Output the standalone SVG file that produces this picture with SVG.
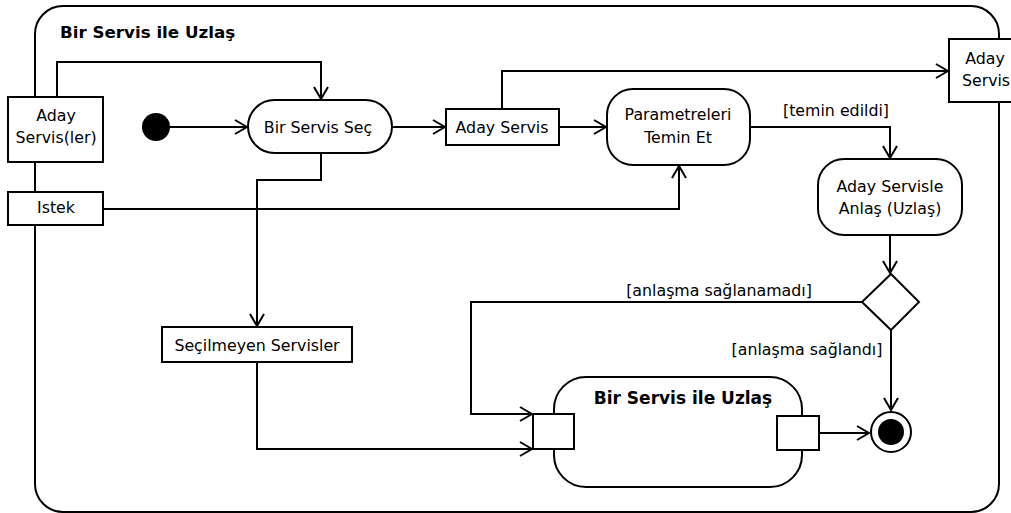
<svg xmlns="http://www.w3.org/2000/svg" width="1011" height="513" viewBox="0 0 1011 513">
<defs>
<style>
.ln{fill:none;stroke:#000;stroke-width:2}
.box{fill:#fff;stroke:#000;stroke-width:2}
.t{font-family:"DejaVu Sans","Noto Sans",sans-serif;font-size:15.8px;fill:#000;text-anchor:middle;dominant-baseline:central}
.b{font-family:"DejaVu Sans","Noto Sans",sans-serif;font-size:16.7px;font-weight:bold;fill:#000;dominant-baseline:central}
</style>
<marker id="a" markerUnits="userSpaceOnUse" viewBox="0 0 14 16" refX="13" refY="8" markerWidth="14" markerHeight="16" orient="auto">
<path d="M1 1 L13 8 L1 15" fill="none" stroke="#000" stroke-width="2"/>
</marker>
</defs>
<rect width="1011" height="513" fill="#fff"/>
<g id="frame">
<rect x="35" y="6" width="964" height="506" rx="28" ry="28" class="ln"/>
<text class="b" x="60" y="32">Bir Servis ile Uzlaş</text>
</g>
<g id="connectors">
<path class="ln" d="M57 97 V62 H321 V99" marker-end="url(#a)"/>
<path class="ln" d="M170 127 H247" marker-end="url(#a)"/>
<path class="ln" d="M392 127 H445" marker-end="url(#a)"/>
<path class="ln" d="M559 127 H606" marker-end="url(#a)"/>
<path class="ln" d="M502 109 V71 H948" marker-end="url(#a)"/>
<path class="ln" d="M103 209 H679 V166" marker-end="url(#a)"/>
<path class="ln" d="M321 153 V180 H257 V326" marker-end="url(#a)"/>
<path class="ln" d="M750 127 H890 V158" marker-end="url(#a)"/>
<path class="ln" d="M890 235 V273" marker-end="url(#a)"/>
<path class="ln" d="M862 302 H471 V414 H532" marker-end="url(#a)"/>
<path class="ln" d="M257 362 V449 H532" marker-end="url(#a)"/>
<path class="ln" d="M891 330 V410" marker-end="url(#a)"/>
<path class="ln" d="M819 433 H869" marker-end="url(#a)"/>
<text class="t" x="836" y="110">[temin edildi]</text>
<text class="t" x="719" y="290">[anlaşma sağlanamadı]</text>
<text class="t" x="807" y="349">[anlaşma sağlandı]</text>
</g>
<g id="aday-servisler">
<rect class="box" x="8" y="97" width="95" height="65"/>
<text class="t" x="56" y="115">Aday</text>
<text class="t" x="56" y="137">Servis(ler)</text>
</g>
<g id="istek">
<rect class="box" x="8" y="192" width="95" height="33"/>
<text class="t" x="56" y="207">Istek</text>
</g>
<g id="initial">
<circle cx="156" cy="127" r="14" fill="#000"/>
</g>
<g id="bir-servis-sec">
<rect class="box" x="248" y="100" width="144" height="53" rx="26.5" ry="26.5"/>
<text class="t" x="318" y="127">Bir Servis Seç</text>
</g>
<g id="aday-servis">
<rect class="box" x="446" y="109" width="113" height="36"/>
<text class="t" x="502" y="127">Aday Servis</text>
</g>
<g id="parametreleri">
<rect class="box" x="607" y="89" width="143" height="76" rx="26" ry="26"/>
<text class="t" x="678" y="114">Parametreleri</text>
<text class="t" x="678" y="137">Temin Et</text>
</g>
<g id="aday-servis-out">
<rect class="box" x="949" y="39" width="80" height="63"/>
<text class="t" x="985" y="58">Aday</text>
<text class="t" x="986" y="80">Servis</text>
</g>
<g id="aday-servisle-anlas">
<rect class="box" x="818" y="159" width="144" height="76" rx="26" ry="26"/>
<text class="t" x="890" y="186">Aday Servisle</text>
<text class="t" x="890" y="208">Anlaş (Uzlaş)</text>
</g>
<g id="decision">
<polygon class="box" points="891,274 919,302 891,330 862,302"/>
</g>
<g id="secilmeyen">
<rect class="box" x="162" y="327" width="190" height="35"/>
<text class="t" x="257" y="345">Seçilmeyen Servisler</text>
</g>
<g id="sub-activity">
<rect class="box" x="554" y="377" width="248" height="110" rx="32" ry="32"/>
<text class="b" x="683" y="398" text-anchor="middle" style="font-size:17px">Bir Servis ile Uzlaş</text>
<rect class="box" x="533" y="414" width="41" height="35"/>
<rect class="box" x="777" y="416" width="42" height="34"/>
</g>
<g id="final">
<circle cx="891" cy="432" r="20" fill="#fff" stroke="#000" stroke-width="2"/>
<circle cx="891" cy="432" r="13" fill="#000"/>
</g>
</svg>
